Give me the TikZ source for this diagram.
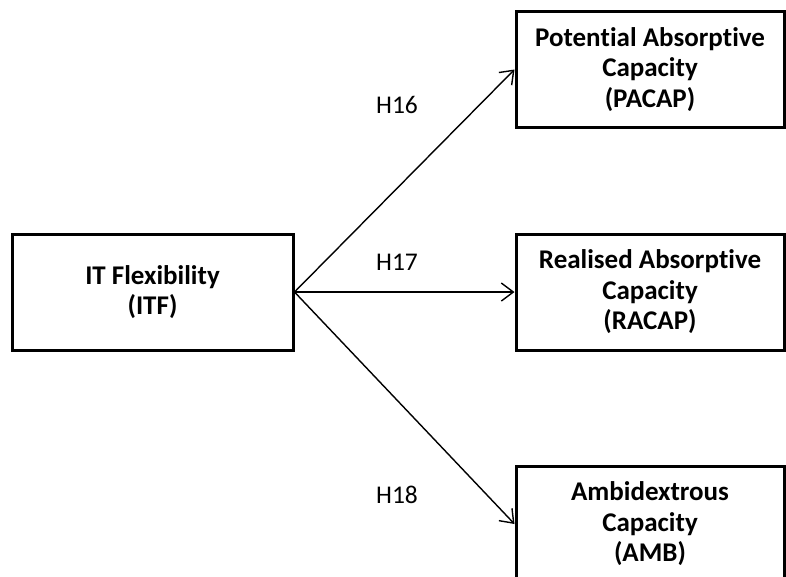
\documentclass[tikz,border=0pt]{standalone}
\usepackage{fontspec}
\setmainfont{Carlito}[RawFeature={-liga;-clig;-dlig;-calt}]
\usetikzlibrary{arrows.meta}
\begin{document}
\begin{tikzpicture}[x=1pt,y=-1pt,
  construct/.style={draw=black, line width=3pt, minimum width=#1, minimum height=116pt,
    inner sep=0pt, align=center, font=\fontsize{27}{30.5}\selectfont\bfseries},
  construct/.default=268pt,
  path/.style={line width=1.4pt, -{Straight Barb[length=12pt,width=18pt,line width=1.4pt]}},
  hyp/.style={font=\fontsize{25.5}{31}\selectfont}]
  \useasboundingbox (0,0) rectangle (786,576);
  \begin{scope}
  \clip (0,0) rectangle (786,576);
  % constructs
  \node[construct=281pt] (itf) at (152.5,292) {IT Flexibility\\(ITF)};
  \node[construct] (pacap) at (650,69.5) {Poten\kern0pt tial Absorp\kern0pt tive\\Capacity\\(PACAP)};
  \node[construct] (racap) at (650,292) {Realised Absorp\kern0pt tive\\Capacity\\(RACAP)};
  \node[construct] (amb) at (650,524) {Ambidextrous\\Capacity\\(AMB)};
  % hypothesised paths
  \draw[path] (itf.east) -- (pacap.west);
  \draw[path] (itf.east) -- (racap.west);
  \draw[path] (itf.east) -- (amb.west);
  \node[hyp] (h16) at (397,105) {H16};
  \node[hyp] (h17) at (397,262) {H17};
  \node[hyp] (h18) at (397,495) {H18};
  \end{scope}
\end{tikzpicture}
\end{document}
